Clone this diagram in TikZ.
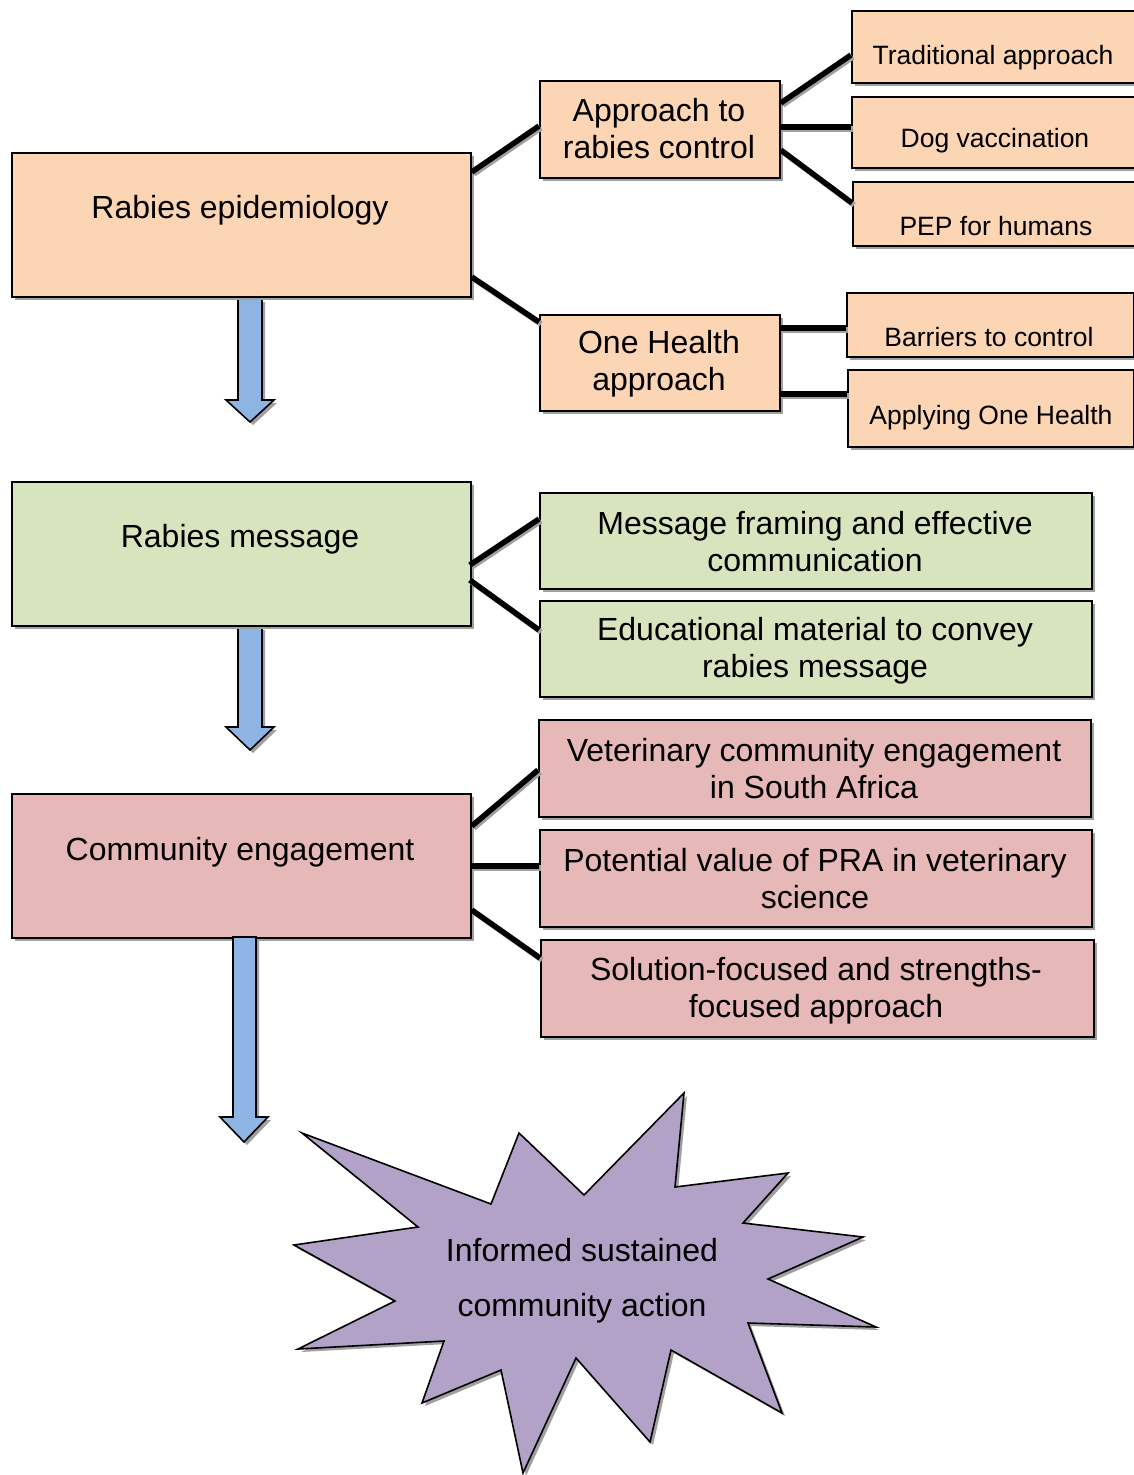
\documentclass[tikz,border=0pt]{standalone}
\usepackage{fontspec}
\setmainfont{Liberation Sans}
\usetikzlibrary{shadows}
\definecolor{orangefill}{RGB}{252,213,180}
\definecolor{greenfill}{RGB}{215,228,189}
\definecolor{redfill}{RGB}{230,185,184}
\definecolor{purplefill}{RGB}{179,162,199}
\definecolor{bluefill}{RGB}{142,180,227}
\definecolor{shadowgrey}{RGB}{160,160,160}

\begin{document}
\begin{tikzpicture}[x=1pt,y=-1pt,
  shadowed/.style={drop shadow={shadow xshift=3pt,shadow yshift=-3pt,fill=shadowgrey,opacity=1}},
  box/.style={draw=black, line width=1.8pt, anchor=north west, inner sep=0pt, shadowed},
  obox/.style={box, fill=orangefill},
  gbox/.style={box, fill=greenfill},
  rbox/.style={box, fill=redfill},
  big/.style={font=\fontsize{32}{37}\selectfont, align=center, inner sep=0pt},
  small/.style={font=\fontsize{26.5}{31}\selectfont, align=center, inner sep=0pt},
  conn/.style={line width=5.5pt, preaction={draw=shadowgrey, line width=5.5pt, transform canvas={xshift=2pt,yshift=-2pt}}},
  downarrow/.style={draw=black, line width=1.6pt, fill=bluefill, line join=miter, shadowed},
]
\useasboundingbox (0,0) rectangle (1133,1475);

% ---- flow arrows between the main boxes
\path[downarrow] (238,299) -- (262,299) -- (262,400) -- (274,400) -- (250,422) -- (226,400) -- (238,400) -- cycle;
\path[downarrow] (238,627) -- (262,627) -- (262,727) -- (274,727) -- (250,750) -- (226,727) -- (238,727) -- cycle;

% ---- main column
\node[obox, minimum width=459pt, minimum height=144pt] (epi) at (11,152) {};
\node[big] (epit) at (240,210) {Rabies epidemiology};
\node[gbox, minimum width=459pt, minimum height=144pt] (msg) at (11,481) {};
\node[big] (msgt) at (240,539) {Rabies message};
\node[rbox, minimum width=459pt, minimum height=144pt] (comm) at (11,793) {};
\node[big] (commt) at (240,852) {Community engagement};

\path[downarrow] (233,937) -- (256,937) -- (256,1117) -- (268,1117) -- (244,1142) -- (220,1117) -- (233,1117) -- cycle;

% ---- rabies epidemiology branch
\node[obox, minimum width=240pt, minimum height=97pt] (appr) at (539,80) {};
\node[big] (apprt) at (659,129) {Approach to\\rabies control};
\node[obox, minimum width=240pt, minimum height=96pt] (oneh) at (539,314) {};
\node[big] (oneht) at (659,364) {One Health\\approach};

\node[obox, minimum width=286pt, minimum height=72pt] (trad) at (851,10) {};
\node[small] (tradt) at (993,58) {Traditional approach};
\node[obox, minimum width=286pt, minimum height=71pt] (dog) at (851,96) {};
\node[small] (dogt) at (995,141) {Dog vaccination};
\node[obox, minimum width=285pt, minimum height=64pt] (pep) at (852,181) {};
\node[small] (pept) at (996,226) {PEP for humans};
\node[obox, minimum width=287pt, minimum height=64pt] (barr) at (846,292) {};
\node[small] (barrt) at (989,337) {Barriers to control};
\node[obox, minimum width=286pt, minimum height=77pt] (appl) at (847,369) {};
\node[small] (applt) at (991,418) {Applying One Health};

% ---- rabies message branch
\node[gbox, minimum width=552pt, minimum height=96pt] (frame) at (539,492) {};
\node[big] (framet) at (815,542) {Message framing and effective\\communication};
\node[gbox, minimum width=552pt, minimum height=96pt] (edu) at (539,600) {};
\node[big] (edut) at (815,651) {Educational material to convey\\rabies message};

% ---- community engagement branch
\node[rbox, minimum width=552pt, minimum height=97pt] (vet) at (538,719) {};
\node[big] (vett) at (814,769) {Veterinary community engagement\\in South Africa};
\node[rbox, minimum width=552pt, minimum height=97pt] (pot) at (539,829) {};
\node[big] (pott) at (815,879) {Potential value of PRA in veterinary\\science};
\node[rbox, minimum width=553pt, minimum height=97pt] (sol) at (540,939) {};
\node[big] (solt) at (816,991) {Solution-focused and strengths-\\focused approach};

% ---- connectors
\draw[conn] ([yshift=-20pt]epi.north east) -- ([yshift=-46pt]appr.north west);
\draw[conn] ([yshift=-125pt]epi.north east) -- ([yshift=-8pt]oneh.north west);
\draw[conn] ([yshift=-23pt]appr.north east) -- ([yshift=-45pt]trad.north west);
\draw[conn] ([yshift=-47pt]appr.north east) -- ([yshift=-31pt]dog.north west);
\draw[conn] ([yshift=-70pt]appr.north east) -- ([yshift=-22pt]pep.north west);
\draw[conn] ([yshift=-14pt]oneh.north east) -- ([yshift=-36pt]barr.north west);
\draw[conn] ([yshift=-80pt]oneh.north east) -- ([yshift=-25pt]appl.north west);
\draw[conn] ([xshift=-2pt,yshift=-84pt]msg.north east) -- ([yshift=-27pt]frame.north west);
\draw[conn] ([xshift=-2pt,yshift=-99pt]msg.north east) -- ([yshift=-30pt]edu.north west);
\draw[conn] ([yshift=-33pt]comm.north east) -- ([yshift=-51pt]vet.north west);
\draw[conn] ([yshift=-73pt]comm.north east) -- ([yshift=-37pt]pot.north west);
\draw[conn] ([yshift=-117pt]comm.north east) -- ([yshift=-19pt]sol.north west);

% ---- outcome burst
\path[draw=black, line width=1.6pt, fill=purplefill, line join=miter, shadowed]
  (302,1133) -- (491,1204) -- (519,1133) -- (584,1195) -- (684,1093) -- (675,1187)
  -- (788,1173) -- (743,1223) -- (863,1237) -- (768,1279) -- (876,1327) -- (748,1323)
  -- (782,1413) -- (671,1350) -- (650,1442) -- (576,1358) -- (523,1473) -- (501,1370)
  -- (422,1403) -- (444,1341) -- (298,1349) -- (395,1301) -- (294,1245) -- (418,1227) -- cycle;
\node[font=\fontsize{32}{55}\selectfont, align=center, inner sep=0pt] (goal) at (582,1281) {Informed sustained\\community action};
\end{tikzpicture}
\end{document}
